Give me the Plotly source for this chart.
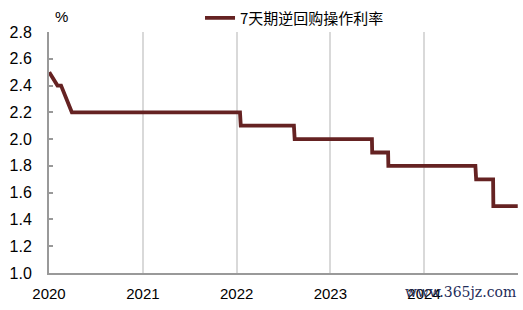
import plotly.graph_objects as go

dates = ["2020-01-02", "2020-02-03", "2020-02-17", "2020-03-30",
         "2022-01-14", "2022-01-17", "2022-08-12", "2022-08-15",
         "2023-06-12", "2023-06-13", "2023-08-14", "2023-08-15",
         "2024-07-19", "2024-07-22", "2024-09-26", "2024-09-27",
         "2024-12-31"]
rates = [2.5, 2.4, 2.4, 2.2,
         2.2, 2.1, 2.1, 2.0,
         2.0, 1.9, 1.9, 1.8,
         1.8, 1.7, 1.7, 1.5,
         1.5]
series_name = "7天期逆回购操作利率"
year_ticks = ["2020-01-01", "2021-01-01", "2022-01-01", "2023-01-01", "2024-01-01"]
year_labels = ["2020", "2021", "2022", "2023", "2024"]
y_ticks = [1.0, 1.2, 1.4, 1.6, 1.8, 2.0, 2.2, 2.4, 2.6, 2.8]

fig = go.Figure()
fig.add_trace(go.Scatter(
    x=dates, y=rates, mode="lines", name=series_name,
    line=dict(color="#652222", width=3.8),
))

fig.update_layout(
    width=523, height=310,
    margin=dict(l=49, r=5, t=32, b=37, autoexpand=False),
    paper_bgcolor="white", plot_bgcolor="white",
    font=dict(family="Liberation Sans, Arial, sans-serif", color="#000000", size=14),
    showlegend=True,
    legend=dict(
        orientation="h", x=0.322, y=0.995, xanchor="left", yanchor="top",
        xref="paper", yref="container",
        font=dict(family="Noto Sans CJK SC, sans-serif", size=15, color="#000000"),
        bgcolor="rgba(0,0,0,0)",
    ),
    xaxis=dict(
        type="date", range=["2020-01-01", "2025-01-01"],
        tickvals=year_ticks, ticktext=year_labels,
        showgrid=True, gridcolor="#d9d9d9", gridwidth=1.5,
        showline=True, linecolor="#999999", linewidth=2,
        ticks="", tickfont=dict(size=15), zeroline=False,
        ticklabelstandoff=6,
    ),
    yaxis=dict(
        range=[1.0, 2.8], tickvals=y_ticks,
        tickformat=".1f",
        showgrid=False, showline=True, linecolor="#999999", linewidth=2,
        ticks="inside", ticklen=4, tickcolor="#999999", tickwidth=1.5,
        tickfont=dict(size=16), zeroline=False,
        ticklabelstandoff=12,
    ),
    annotations=[
        dict(text="%", x=0.026, y=1.066, xref="paper", yref="paper",
             showarrow=False, font=dict(size=15), xanchor="center", yanchor="middle"),
        dict(text="www.365jz.com", x=1.0, y=-0.08, xref="paper", yref="paper",
             showarrow=False, xanchor="right", yanchor="middle",
             font=dict(family="DejaVu Serif, serif", size=14, color="#1f2d5a")),
    ],
)

fig.write_html("out.html")
